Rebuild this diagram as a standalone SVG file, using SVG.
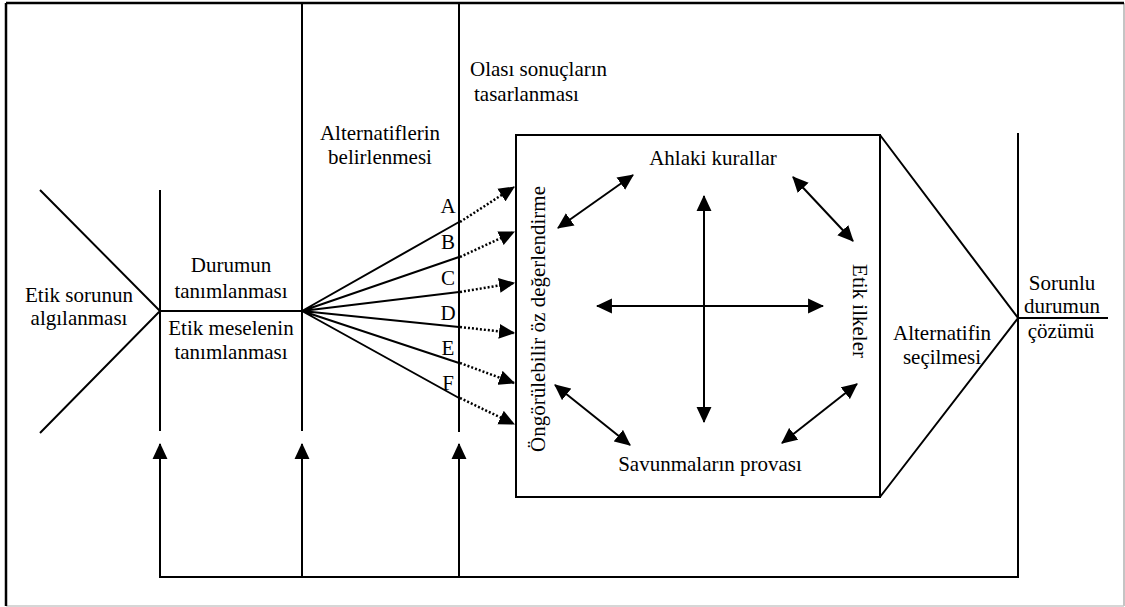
<svg xmlns="http://www.w3.org/2000/svg" width="1125" height="607" viewBox="0 0 1125 607">
  <style>
    .ln { stroke: #000; stroke-width: 2; fill: none; }
    .dot { stroke: #000; stroke-width: 2.5; fill: none; stroke-dasharray: 2 2; }
    .t { font-family: "Liberation Serif", "Times New Roman", serif; font-size: 21px; fill: #000; }
    .c { text-anchor: middle; }
  </style>
  <defs>
    <marker id="ah" markerUnits="userSpaceOnUse" markerWidth="16" markerHeight="16" viewBox="0 0 15 14" refX="14" refY="7" orient="auto-start-reverse">
      <path d="M0,0 L15,7 L0,14 z" fill="#000"/>
    </marker>
  </defs>
  <rect width="1125" height="607" fill="#fff"/>
  <g id="frame">
    <line x1="1124" y1="3" x2="1124" y2="606" stroke="#b0b0b0" stroke-width="1.5"/>
    <line x1="6" y1="606" x2="1124" y2="606" stroke="#c8c8c8" stroke-width="1.5"/>
    <line x1="6" y1="3" x2="1124" y2="3" stroke="#000" stroke-width="2.5"/>
    <line x1="6" y1="3" x2="6" y2="606" stroke="#000" stroke-width="2.5"/>
  </g>

  <g id="stage-perception">
    <path class="ln" d="M40,190 L160,311 L40,433"/>
    <text class="t c" x="79" y="302">Etik sorunun</text>
    <text class="t c" x="79" y="325">algılanması</text>
  </g>

  <g id="stage-definition">
    <line class="ln" x1="160" y1="190" x2="160" y2="431"/>
    <line class="ln" x1="160" y1="311" x2="302" y2="311"/>
    <text class="t c" x="231" y="272">Durumun</text>
    <text class="t c" x="231" y="298">tanımlanması</text>
    <text class="t c" x="231" y="335">Etik meselenin</text>
    <text class="t c" x="231" y="359">tanımlanması</text>
  </g>

  <g id="stage-alternatives">
    <line class="ln" x1="302" y1="3" x2="302" y2="431"/>
    <text class="t c" x="380" y="140">Alternatiflerin</text>
    <text class="t c" x="380" y="164">belirlenmesi</text>
    <path class="ln" d="M302,311 L459,222 M302,311 L459,257 M302,311 L459,292 M302,311 L459,327 M302,311 L459,363 M302,311 L459,398"/>
    <text class="t c" x="448" y="213">A</text>
    <text class="t c" x="448" y="249">B</text>
    <text class="t c" x="448" y="285">C</text>
    <text class="t c" x="448" y="320">D</text>
    <text class="t c" x="448" y="355">E</text>
    <text class="t c" x="448" y="390">F</text>
  </g>

  <g id="stage-consequences">
    <line class="ln" x1="459" y1="3" x2="459" y2="432"/>
    <text class="t" x="470" y="76">Olası sonuçların</text>
    <text class="t" x="474" y="101">tasarlanması</text>
  </g>

  <g id="evaluation-box">
    <rect class="ln" x="516" y="135" width="364" height="362"/>
    <text class="t c" x="713" y="165">Ahlaki kurallar</text>
    <text class="t c" x="710" y="471">Savunmaların provası</text>
    <text class="t c" transform="translate(545,319) rotate(-90)">Öngörülebilir öz değerlendirme</text>
    <text class="t c" transform="translate(853,311) rotate(90)">Etik ilkeler</text>
  </g>

  <g id="stage-selection">
    <path class="ln" d="M880,135 L1018,318 L880,497"/>
    <text class="t c" x="942" y="340">Alternatifin</text>
    <text class="t c" x="942" y="364">seçilmesi</text>
  </g>

  <g id="stage-solution">
    <line class="ln" x1="1018" y1="318" x2="1108" y2="318"/>
    <text class="t c" x="1062" y="290">Sorunlu</text>
    <text class="t c" x="1062" y="313">durumun</text>
    <text class="t c" x="1061" y="338">çözümü</text>
  </g>

  <g id="connectors">
    <line class="dot" x1="460" y1="222" x2="514" y2="187" marker-end="url(#ah)"/>
    <line class="dot" x1="460" y1="257" x2="514" y2="232" marker-end="url(#ah)"/>
    <line class="dot" x1="460" y1="292" x2="514" y2="283" marker-end="url(#ah)"/>
    <line class="dot" x1="460" y1="327" x2="514" y2="333" marker-end="url(#ah)"/>
    <line class="dot" x1="460" y1="363" x2="514" y2="383" marker-end="url(#ah)"/>
    <line class="dot" x1="460" y1="398" x2="514" y2="424" marker-end="url(#ah)"/>
    <line class="ln" x1="704" y1="196" x2="704" y2="422" marker-start="url(#ah)" marker-end="url(#ah)"/>
    <line class="ln" x1="597" y1="306" x2="823" y2="306" marker-start="url(#ah)" marker-end="url(#ah)"/>
    <line class="ln" x1="558" y1="228" x2="633" y2="175" marker-start="url(#ah)" marker-end="url(#ah)"/>
    <line class="ln" x1="793" y1="177" x2="853" y2="241" marker-start="url(#ah)" marker-end="url(#ah)"/>
    <line class="ln" x1="555" y1="385" x2="630" y2="445" marker-start="url(#ah)" marker-end="url(#ah)"/>
    <line class="ln" x1="857" y1="384" x2="782" y2="443" marker-start="url(#ah)" marker-end="url(#ah)"/>
    <path class="ln" d="M1018,133 V577 H160 V444" marker-end="url(#ah)"/>
    <line class="ln" x1="302" y1="577" x2="302" y2="444" marker-end="url(#ah)"/>
    <line class="ln" x1="459" y1="577" x2="459" y2="444" marker-end="url(#ah)"/>
  </g>
</svg>
